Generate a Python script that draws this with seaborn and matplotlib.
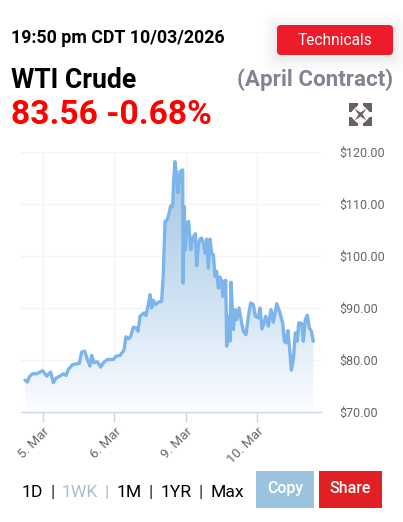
import numpy as np
import pandas as pd
import matplotlib
matplotlib.use('Agg')
import matplotlib.pyplot as plt
import seaborn as sns
from matplotlib.colors import LinearSegmentedColormap
from matplotlib.patches import FancyBboxPatch, Rectangle, Polygon

# position in trading sessions, 0 = 5. Mar tick
sessions = [-0.252, -0.219, -0.191, -0.149, -0.089, -0.005, 0.051, 0.107, 0.145, 0.182, 0.238, 0.285, 0.322, 0.355,
            0.415, 0.509, 0.542, 0.584, 0.621, 0.658, 0.682, 0.714, 0.761, 0.808, 0.845, 0.901, 0.985, 1.022, 1.078,
            1.134, 1.162, 1.200, 1.228, 1.265, 1.303, 1.331, 1.359, 1.415, 1.443, 1.475, 1.499, 1.522, 1.545, 1.578,
            1.615, 1.662, 1.685, 1.709, 1.741, 1.765, 1.788, 1.816, 1.830, 1.849, 1.872, 1.891, 1.919, 1.956, 1.963,
            1.975, 1.993, 2.012, 2.040, 2.068, 2.096, 2.134, 2.152, 2.180, 2.199, 2.222, 2.246, 2.269, 2.292, 2.316,
            2.339, 2.362, 2.386, 2.409, 2.432, 2.456, 2.479, 2.502, 2.516, 2.535, 2.559, 2.573, 2.591, 2.619, 2.633,
            2.666, 2.689, 2.713, 2.745, 2.778, 2.806, 2.843, 2.876, 2.909, 2.946, 2.974, 3.016, 3.039, 3.067, 3.095,
            3.119, 3.156, 3.193, 3.226, 3.273, 3.319, 3.357, 3.380, 3.403, 3.431, 3.459, 3.478, 3.506, 3.534, 3.562,
            3.581, 3.623, 3.646, 3.674, 3.702, 3.730, 3.758, 3.786]
prices = [76.14, 75.75, 76.78, 77.35, 77.35, 77.93, 76.91, 77.67, 75.63, 76.52, 76.91, 77.35, 77.03, 78.18,
          79.14, 79.34, 81.51, 81.70, 80.10, 78.82, 80.87, 79.46, 79.65, 78.63, 79.46, 80.10, 80.10, 80.74, 80.87,
          81.89, 84.45, 84.07, 84.58, 86.30, 86.18, 85.54, 88.41, 89.05, 88.54, 90.65, 92.57, 90.01, 91.48, 90.65,
          91.10, 91.29, 96.73, 106.64, 106.96, 108.24, 109.64, 109.51, 114.63, 118.15, 115.27, 112.20, 116.23, 116.55, 94.81,
          109.51, 101.20, 106.32, 106.64, 101.20, 103.44, 104.27, 98.13, 102.48, 103.25, 103.44, 102.48, 100.56, 103.25, 97.69,
          103.25, 100.56, 100.24, 96.09, 97.05, 93.85, 95.96, 95.13, 92.25, 95.13, 95.32, 82.66, 88.41, 83.62, 94.94,
          85.86, 89.69, 87.77, 90.01, 87.46, 85.54, 84.90, 88.41, 90.97, 90.65, 88.41, 88.09, 90.01, 85.98, 87.14,
          88.41, 86.50, 89.69, 87.26, 90.84, 89.05, 87.14, 83.62, 83.30, 85.66, 81.38, 78.06, 80.10, 85.22, 83.62,
          87.14, 87.01, 83.62, 87.77, 88.61, 86.18, 85.54, 83.62]
tick_pos = [0, 1, 2, 3]
tick_labels = ['5. Mar', '6. Mar', '9. Mar', '10. Mar']
y_ticks = [70, 80, 90, 100, 110, 120]

W, H = 403, 522
sns.set_theme(style='white')
plt.rcParams['font.family'] = ['Roboto', 'DejaVu Sans']

df = pd.DataFrame({'session': sessions, 'price': prices})

fig = plt.figure(figsize=(W / 100, H / 100), dpi=100, facecolor='white')

# chart area, 21..321 px across, 152..412 px down
ax = fig.add_axes([21 / W, 1 - 412 / H, 300 / W, 260 / H])

# gradient under the line
cmap = LinearSegmentedColormap.from_list('fade', [(0, '#fcfdff'), (0.2, '#e8f1fa'), (0.45, '#cfe2f3'), (1, '#9fc6e2')])
poly = ax.fill_between(df['session'], df['price'], 70, color='none', lw=0)
grad = np.linspace(0.0, 1.0, 256).reshape(-1, 1)
im = ax.imshow(grad, extent=[df['session'].min(), df['session'].max(), 70, 118.2], origin='lower',
               aspect='auto', cmap=cmap, vmin=0, vmax=1, zorder=1)
im.set_clip_path(poly.get_paths()[0], transform=ax.transData)

sns.lineplot(data=df, x='session', y='price', color='#7cb5ec', lw=2.4, ax=ax, zorder=3, estimator=None, sort=False)

ax.set_xlim((21 - 43) / 71.4, (321 - 43) / 71.4)
ax.set_ylim(70, 120)
ax.set_xlabel('')
ax.set_ylabel('')
ax.set_xticks(tick_pos)
ax.set_xticklabels(tick_labels, rotation=45, ha='right', rotation_mode='anchor', fontsize=9.6, color='#666666')
ax.set_yticks(y_ticks)
ax.set_yticklabels(['$%.2f' % v for v in y_ticks], fontsize=9, color='#666666')
ax.yaxis.tick_right()
ax.grid(True, color='#f4f4f6', lw=1)
ax.set_axisbelow(True)
ax.tick_params(axis='x', length=7.5, width=1, color='#d4d4d8', pad=2, bottom=True)
ax.tick_params(axis='y', length=0, pad=13, right=False)
for s in ['top', 'left', 'right']:
    ax.spines[s].set_visible(False)
ax.spines['bottom'].set_color('#ccd6eb')
ax.spines['bottom'].set_linewidth(1)

# page furniture, drawn in pixel coordinates
ov = fig.add_axes([0, 0, 1, 1], facecolor='none')
ov.set_xlim(0, W)
ov.set_ylim(H, 0)
ov.axis('off')

ov.text(11, 43, '19:50 pm CDT 10/03/2026', fontsize=12.8, fontweight='bold', color='black')
ov.text(11, 88, 'WTI Crude', fontsize=19.2, fontweight='bold', color='black')
ov.text(11, 124, '83.56 -0.68%', fontsize=24.2, fontweight='bold', color='#ff0000')
ov.text(393, 86, '(April Contract)', fontsize=16.1, fontweight='bold', color='#808590', ha='right')

# button shadow
for grow, a in [(14, 0.012), (10, 0.015), (6, 0.02), (3, 0.025)]:
    ov.add_patch(FancyBboxPatch((277 - grow, 25 - grow + 3), 116 + 2 * grow, 30 + 2 * grow,
                                boxstyle='round,pad=0,rounding_size=8', fc='black', ec='none', alpha=a))
ov.add_patch(FancyBboxPatch((277, 25), 116, 30, boxstyle='round,pad=0,rounding_size=4', fc='#ee1c2a', ec='none'))
ov.text(335, 40.5, 'Technicals', fontsize=11.2, color='white', ha='center', va='center')

# expand icon: dark block with white wedges cut from each edge
ic = '#6b5f66'
cx, cy = 360.5, 114.5
ov.add_patch(Rectangle((cx - 11.5, cy - 11.5), 23, 23, fc=ic, ec='none'))
wedge = [(-2.5, 11.5), (2.5, 11.5), (2.5, 9), (6, 6), (0, 2), (-6, 6), (-2.5, 9)]
for px, py in [(1, 1), (1, -1)]:
    ov.add_patch(Polygon([(cx + a, cy + py * b) for a, b in wedge], fc='white', ec='none'))
    ov.add_patch(Polygon([(cx + py * b, cy + a) for a, b in wedge], fc='white', ec='none'))

# range selector
for x, label, col in [(22, '1D', 'black'), (50, '|', '#222222'), (62, '1WK', '#a5c0cc'), (105, '|', '#a5c0cc'),
                      (117, '1M', 'black'), (148, '|', '#222222'), (161, '1YR', 'black'), (198, '|', '#222222'),
                      (211, 'Max', 'black')]:
    ov.text(x, 497, label, fontsize=12.6, color=col)

ov.add_patch(Rectangle((256, 471), 58, 37, fc='#9cc3dd', ec='none'))
ov.text(285, 488.5, 'Copy', fontsize=11.4, color='white', ha='center', va='center', fontweight='medium')
ov.add_patch(Rectangle((319, 471), 63, 37, fc='#e02025', ec='none'))
ov.text(350.5, 488.5, 'Share', fontsize=11.4, color='white', ha='center', va='center', fontweight='medium')

fig.savefig('out.png', dpi=100)
